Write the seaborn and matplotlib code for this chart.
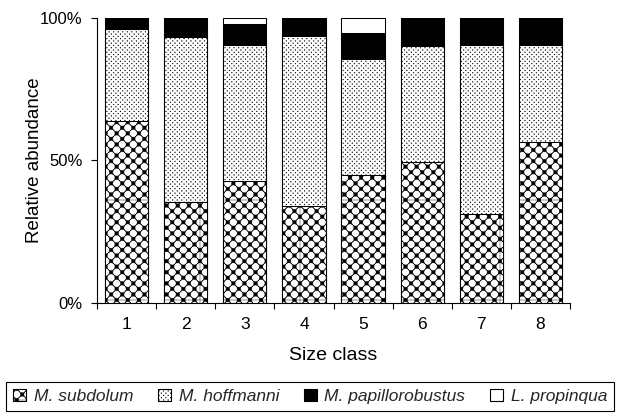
import numpy as np
import pandas as pd
import matplotlib
matplotlib.use("Agg")
import matplotlib.pyplot as plt
import matplotlib.hatch as mhatch
from matplotlib.path import Path
from matplotlib.patches import Patch
from matplotlib.ticker import FixedLocator
import seaborn as sns

# ---------------- data (percent of individuals per size class) ----------------
size_classes = ["1", "2", "3", "4", "5", "6", "7", "8"]
species = ["M. subdolum", "M. hoffmanni", "M. papillorobustus", "L. propinqua"]
subdolum = [63.8, 35.2, 42.7, 33.8, 44.7, 49.4, 31.1, 56.3]
hoffmanni = [32.4, 58.0, 47.9, 60.0, 40.9, 40.9, 59.5, 34.3]
papillorobustus = [3.8, 6.8, 7.4, 6.2, 9.3, 9.7, 9.4, 9.4]
propinqua = [0.0, 0.0, 2.0, 0.0, 5.1, 0.0, 0.0, 0.0]
y_ticks = [0, 50, 100]
y_tick_labels = ["0%", "50%", "100%"]


# ---------------- custom fill patterns (lattice of circles / dots) ----------------
class _Lattice(mhatch.HatchPatternBase):
    char = "O"
    ncols = 9
    radius = 0.32
    holes = True

    def __init__(self, hatch, density):
        if hatch.count(self.char) == 0:
            self.num_vertices = 0
            return
        n = self.ncols
        a = 1.0 / n
        circ = Path.unit_circle()
        cv = circ.vertices * (self.radius * a)
        cc = circ.codes
        if self.holes:
            cv = cv[::-1]
        verts, codes = [], []
        if self.holes:
            verts.append(np.array([[0, 0], [1, 0], [1, 1], [0, 1], [0, 0]], float))
            codes.append(np.array([Path.MOVETO, Path.LINETO, Path.LINETO,
                                   Path.LINETO, Path.CLOSEPOLY], dtype=Path.code_type))
        for j in range(2 * n + 1):
            yy = j * a / 2
            xs = np.arange(n + 1) * a if j % 2 == 0 else (np.arange(n) + 0.5) * a
            for xx in xs:
                verts.append(cv + [xx, yy])
                codes.append(cc)
        self._v = np.concatenate(verts)
        self._c = np.concatenate(codes)
        self.num_vertices = len(self._v)

    def set_vertices_and_codes(self, vertices, codes):
        vertices[:] = self._v
        codes[:] = self._c


class _HoleLattice(_Lattice):
    char = "O"
    ncols = 9
    radius = 0.345
    holes = True


class _DotLattice(_Lattice):
    char = "."
    ncols = 22
    radius = 0.09
    holes = False


mhatch._hatch_types[:] = [t for t in mhatch._hatch_types
                          if t not in (mhatch.LargeCircles, mhatch.SmallFilledCircles)]
mhatch._hatch_types.extend([_HoleLattice, _DotLattice])

# ---------------- style ----------------
sns.set_theme(style="ticks")
plt.rcParams["font.family"] = ["Liberation Sans", "DejaVu Sans"]
plt.rcParams["hatch.linewidth"] = 0.3
plt.rcParams["axes.linewidth"] = 0.8
plt.rcParams["legend.framealpha"] = 1.0

styles = {
    "M. subdolum": dict(color="white", hatch="O"),
    "M. hoffmanni": dict(color="white", hatch="."),
    "M. papillorobustus": dict(color="black", hatch=None),
    "L. propinqua": dict(color="white", hatch=None),
}

df = pd.DataFrame({
    "size": size_classes,
    "M. subdolum": subdolum,
    "M. hoffmanni": hoffmanni,
    "M. papillorobustus": papillorobustus,
    "L. propinqua": propinqua,
})
cum = df[species].cumsum(axis=1)
for sp in species:
    df["top_" + sp] = cum[sp]

fig = plt.figure(figsize=(6.19, 4.15), dpi=100)
ax = fig.add_axes([97 / 619, 1 - 302.7 / 415, 473 / 619, 284.7 / 415])

for sp in reversed(species):
    st = styles[sp]
    sns.barplot(data=df, x="size", y="top_" + sp, ax=ax, color=st["color"],
                saturation=1, errorbar=None, width=0.73, hatch=st["hatch"],
                edgecolor="black", linewidth=0.75)

ax.set_xlim(-0.5, len(size_classes) - 0.5)
ax.set_ylim(0, 100)
ax.set_yticks(y_ticks)
ax.set_yticklabels(y_tick_labels)
ax.xaxis.set_minor_locator(FixedLocator(np.arange(-0.5, len(size_classes), 1.0)))
ax.tick_params(axis="x", which="major", length=0, pad=10, labelsize=12.5, colors="black")
ax.tick_params(axis="x", which="minor", length=4.5, width=0.8, direction="out", color="black")
ax.tick_params(axis="y", length=4.5, width=0.8, direction="out", pad=6, labelsize=12,
               colors="black")
sns.despine(ax=ax)
for s in ("left", "bottom"):
    ax.spines[s].set_color("black")
ax.set_xlabel("Size class", fontsize=14, labelpad=11, color="black")
ax.set_ylabel("Relative abundance", fontsize=13.5, labelpad=-2, color="black")

handles = [Patch(facecolor=styles[sp]["color"], edgecolor="black", hatch=styles[sp]["hatch"],
                 linewidth=0.8, label=sp) for sp in species]
leg = fig.legend(handles=handles, loc="lower left",
                 bbox_to_anchor=(6 / 619, 4 / 415, 608 / 619, 32 / 415),
                 mode="expand", ncol=4, frameon=True, fancybox=False, edgecolor="black",
                 borderaxespad=0, prop={"style": "italic", "size": 12.5},
                 handlelength=0.75, handleheight=0.75, handletextpad=0.45, borderpad=0.4)
leg.get_frame().set_linewidth(0.8)

fig.savefig("out.png", dpi=100)
